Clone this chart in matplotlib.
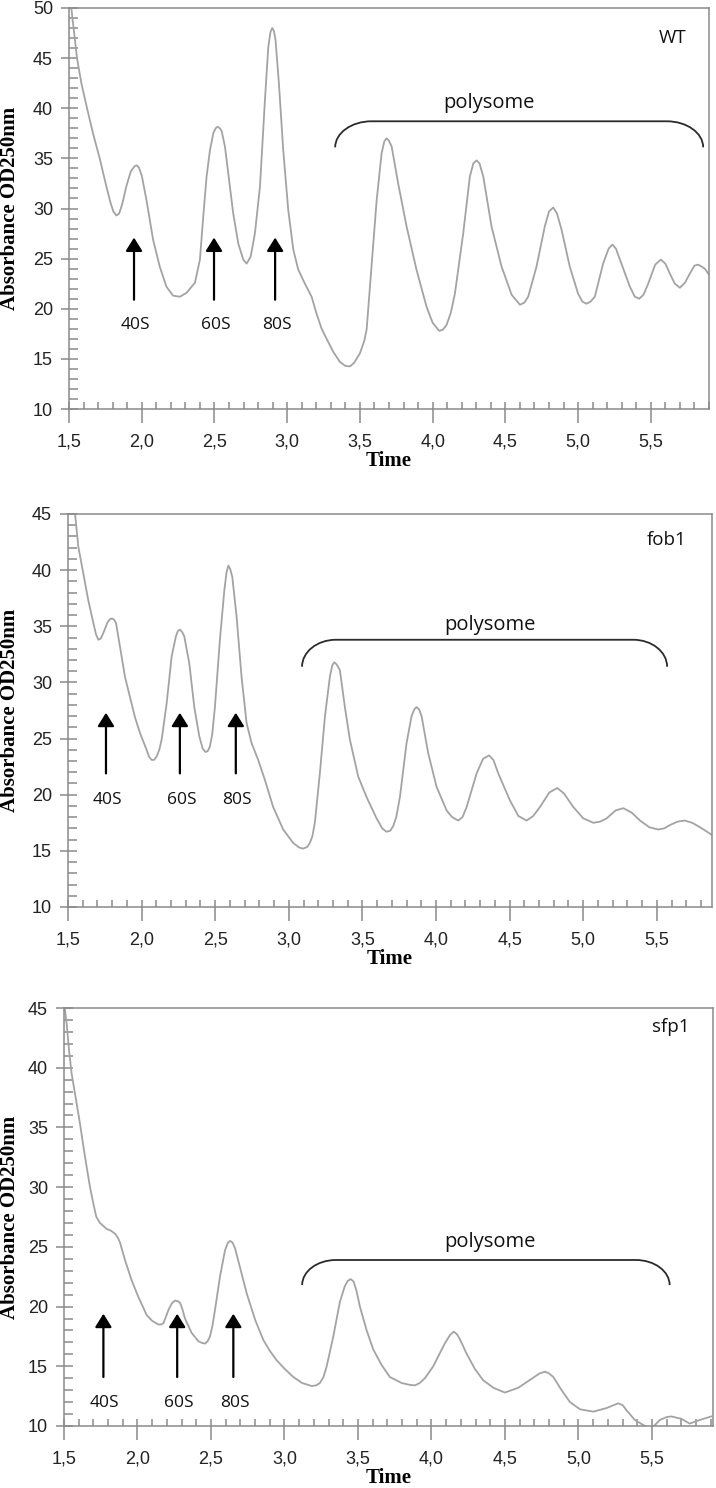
import matplotlib
matplotlib.use('Agg')
import matplotlib.pyplot as plt
from matplotlib.path import Path
from matplotlib.patches import PathPatch
from matplotlib.ticker import FixedLocator, MultipleLocator

# ---------------- data ----------------
panel_names = ['WT', 'fob1', 'sfp1']

# (time, absorbance) samples
wt_curve = [
    (1.50, 51.5), (1.516, 50.0), (1.555, 45.0), (1.585, 42.5), (1.624, 40.0),
    (1.665, 37.5), (1.711, 35.0), (1.757, 32.2), (1.785, 30.6), (1.805, 29.7),
    (1.826, 29.3), (1.845, 29.5), (1.865, 30.4), (1.894, 32.2), (1.925, 33.7),
    (1.95, 34.2), (1.965, 34.3), (1.98, 34.1), (2.0, 33.3), (2.032, 30.9),
    (2.078, 26.9), (2.124, 24.2), (2.17, 22.2), (2.216, 21.3), (2.263, 21.2),
    (2.309, 21.6), (2.366, 22.6), (2.40, 24.9), (2.423, 29.2), (2.446, 33.2),
    (2.469, 35.8), (2.492, 37.5), (2.508, 38.0), (2.522, 38.16), (2.537, 38.0),
    (2.55, 37.7), (2.572, 36.2), (2.595, 33.5), (2.629, 29.5), (2.664, 26.5),
    (2.698, 24.9), (2.721, 24.5), (2.749, 25.2), (2.778, 27.5), (2.813, 32.2),
    (2.847, 40.8), (2.870, 46.1), (2.885, 47.6), (2.897, 48.0), (2.909, 47.7),
    (2.92, 46.8), (2.943, 42.5), (2.973, 35.8), (3.007, 29.9), (3.042, 25.9),
    (3.076, 23.9), (3.122, 22.5), (3.168, 21.2), (3.202, 19.5), (3.237, 18.0),
    (3.271, 17.0), (3.317, 15.7), (3.362, 14.7), (3.40, 14.3), (3.431, 14.25),
    (3.46, 14.6), (3.50, 15.55), (3.53, 16.8), (3.546, 17.9), (3.58, 24.2),
    (3.615, 30.8), (3.649, 35.5), (3.668, 36.7), (3.683, 37.0), (3.698, 36.8),
    (3.718, 36.2), (3.763, 32.5), (3.821, 28.2), (3.889, 23.9), (3.958, 20.2),
    (4.00, 18.6), (4.045, 17.8), (4.07, 17.9), (4.096, 18.4), (4.125, 19.6),
    (4.153, 21.5), (4.21, 27.5), (4.256, 33.2), (4.28, 34.5), (4.302, 34.8),
    (4.322, 34.5), (4.348, 33.2), (4.405, 28.2), (4.474, 24.2), (4.543, 21.4),
    (4.60, 20.4), (4.63, 20.6), (4.657, 21.2), (4.714, 24.2), (4.771, 28.2),
    (4.80, 29.7), (4.829, 30.1), (4.855, 29.5), (4.886, 27.9), (4.943, 24.2),
    (5.0, 21.5), (5.03, 20.7), (5.058, 20.5), (5.085, 20.7), (5.115, 21.2),
    (5.172, 24.5), (5.21, 26.0), (5.236, 26.4), (5.26, 26.0), (5.298, 24.5),
    (5.356, 22.2), (5.39, 21.2), (5.42, 21.0), (5.45, 21.4), (5.482, 22.5),
    (5.53, 24.4), (5.569, 24.9), (5.60, 24.5), (5.631, 23.5), (5.665, 22.5),
    (5.70, 22.1), (5.735, 22.6), (5.768, 23.5), (5.80, 24.3), (5.825, 24.4),
    (5.85, 24.2), (5.871, 24.0), (5.90, 23.4),
]

fob1_curve = [
    (1.50, 48.5), (1.548, 45.0), (1.57, 42.1), (1.604, 39.7), (1.638, 37.3),
    (1.672, 35.3), (1.69, 34.3), (1.706, 33.8), (1.722, 33.9), (1.74, 34.4),
    (1.767, 35.3), (1.782, 35.6), (1.797, 35.7), (1.812, 35.6), (1.826, 35.3),
    (1.853, 33.2), (1.887, 30.5), (1.921, 28.7), (1.955, 26.9), (1.989, 25.5),
    (2.034, 24.0), (2.05, 23.4), (2.068, 23.1), (2.085, 23.1), (2.102, 23.4),
    (2.12, 24.0), (2.136, 24.9), (2.17, 28.1), (2.204, 32.3), (2.233, 34.1),
    (2.247, 34.6), (2.26, 34.7), (2.275, 34.5), (2.29, 34.1), (2.324, 31.7),
    (2.358, 27.8), (2.392, 25.2), (2.415, 24.1), (2.435, 23.8), (2.45, 23.9),
    (2.464, 24.3), (2.48, 25.4), (2.498, 27.8), (2.532, 33.8), (2.562, 38.2),
    (2.577, 39.8), (2.589, 40.4), (2.602, 40.1), (2.616, 39.4), (2.645, 35.9),
    (2.679, 30.5), (2.713, 26.4), (2.747, 24.6), (2.792, 23.1), (2.838, 21.3),
    (2.894, 18.9), (2.962, 16.9), (3.03, 15.7), (3.07, 15.3), (3.098, 15.2),
    (3.125, 15.35), (3.143, 15.7), (3.16, 16.3), (3.177, 17.5), (3.211, 21.9),
    (3.245, 26.9), (3.279, 30.5), (3.295, 31.5), (3.309, 31.8), (3.325, 31.6),
    (3.347, 31.1), (3.381, 27.8), (3.415, 24.9), (3.472, 21.6), (3.528, 19.8),
    (3.596, 17.9), (3.635, 17.0), (3.664, 16.7), (3.69, 16.8), (3.709, 17.2),
    (3.73, 18.0), (3.755, 19.8), (3.80, 24.6), (3.834, 27.0), (3.852, 27.6),
    (3.868, 27.8), (3.885, 27.6), (3.902, 27.0), (3.947, 23.7), (4.004, 20.7),
    (4.072, 18.6), (4.11, 18.0), (4.151, 17.7), (4.18, 18.0), (4.208, 18.9),
    (4.276, 21.9), (4.32, 23.2), (4.36, 23.5), (4.39, 23.1), (4.423, 21.9),
    (4.502, 19.5), (4.56, 18.1), (4.616, 17.7), (4.66, 18.1), (4.706, 18.9),
    (4.77, 20.2), (4.824, 20.6), (4.87, 20.1), (4.933, 18.9), (5.00, 17.9),
    (5.069, 17.5), (5.115, 17.6), (5.16, 17.9), (5.22, 18.6), (5.273, 18.8),
    (5.33, 18.4), (5.386, 17.7), (5.45, 17.1), (5.51, 16.9), (5.55, 17.0),
    (5.59, 17.3), (5.64, 17.6), (5.69, 17.7), (5.74, 17.5), (5.781, 17.2),
    (5.83, 16.8), (5.876, 16.4),
]

sfp1_curve = [
    (1.50, 45.5), (1.518, 43.7), (1.534, 41.5), (1.552, 39.5), (1.582, 37.3),
    (1.609, 35.3), (1.632, 33.4), (1.654, 31.7), (1.677, 30.0), (1.70, 28.6),
    (1.72, 27.5), (1.745, 27.0), (1.79, 26.5), (1.82, 26.35), (1.847, 26.1),
    (1.865, 25.8), (1.88, 25.4), (1.915, 23.9), (1.96, 22.2), (2.006, 20.8),
    (2.062, 19.3), (2.10, 18.8), (2.142, 18.5), (2.16, 18.5), (2.176, 18.6),
    (2.195, 19.2), (2.21, 19.7), (2.235, 20.3), (2.255, 20.5), (2.275, 20.45),
    (2.29, 20.3), (2.305, 19.8), (2.323, 19.0), (2.368, 17.8), (2.414, 17.1),
    (2.44, 16.95), (2.46, 16.9), (2.477, 17.1), (2.493, 17.5), (2.51, 18.4),
    (2.527, 19.7), (2.561, 22.5), (2.595, 24.7), (2.615, 25.35), (2.63, 25.5),
    (2.647, 25.35), (2.663, 24.9), (2.697, 23.3), (2.743, 21.1), (2.80, 18.9),
    (2.856, 17.2), (2.90, 16.3), (2.947, 15.5), (3.00, 14.8), (3.06, 14.1),
    (3.12, 13.6), (3.185, 13.35), (3.215, 13.4), (3.241, 13.6), (3.265, 14.1),
    (3.287, 15.0), (3.332, 17.5), (3.377, 20.4), (3.41, 21.7), (3.43, 22.15),
    (3.45, 22.3), (3.47, 22.1), (3.49, 21.3), (3.513, 20.0), (3.559, 18.0),
    (3.604, 16.4), (3.661, 15.1), (3.717, 14.1), (3.797, 13.6), (3.85, 13.45),
    (3.887, 13.4), (3.92, 13.6), (3.955, 14.0), (4.012, 15.0), (4.09, 16.9),
    (4.125, 17.6), (4.151, 17.9), (4.172, 17.7), (4.192, 17.3), (4.237, 16.1),
    (4.294, 14.8), (4.35, 13.85), (4.421, 13.2), (4.499, 12.8), (4.59, 13.2),
    (4.669, 13.85), (4.735, 14.4), (4.772, 14.55), (4.80, 14.4), (4.829, 14.1),
    (4.885, 13.0), (4.942, 12.0), (5.01, 11.4), (5.101, 11.2), (5.19, 11.5),
    (5.27, 11.9), (5.30, 11.75), (5.328, 11.3), (5.384, 10.5), (5.452, 10.0),
    (5.497, 9.8), (5.553, 10.5), (5.60, 10.75), (5.632, 10.8), (5.70, 10.6),
    (5.756, 10.2), (5.824, 10.5), (5.903, 10.8),
]

x_ticks = [1.5, 2.0, 2.5, 3.0, 3.5, 4.0, 4.5, 5.0, 5.5]
x_tick_labels = ['1,5', '2,0', '2,5', '3,0', '3,5', '4,0', '4,5', '5,0', '5,5']
wt_y_ticks = [10, 15, 20, 25, 30, 35, 40, 45, 50]
mut_y_ticks = [10, 15, 20, 25, 30, 35, 40, 45]

peak_labels = ['40S', '60S', '80S']
wt_peak_time = [1.947, 2.497, 2.917]
fob1_peak_time = [1.758, 2.26, 2.64]
sfp1_peak_time = [1.768, 2.27, 2.652]
bracket_label = 'polysome'

# ---------------- layout / style ----------------
W, H = 716, 1488
fig = plt.figure(figsize=(W / 100, H / 100), dpi=100)

axes_px = [  # left, top, right, bottom in pixels
    (69, 8, 709, 409),
    (68, 514, 712, 907),
    (64, 1008, 713, 1426),
]
xlims = [(1.5, 5.9), (1.5, 5.875), (1.5, 5.915)]
ylims = [(10, 50), (10, 45), (10, 45)]
curves = [wt_curve, fob1_curve, sfp1_curve]
yticks_all = [wt_y_ticks, mut_y_ticks, mut_y_ticks]
peak_times = [wt_peak_time, fob1_peak_time, sfp1_peak_time]
arrow_y = [(27.1, 20.9, 18.4), (27.3, 21.9, 19.5), (19.4, 14.1, 11.9)]  # tip, tail, label
brackets = [(3.33, 5.86, 38.7, 36.1, 0.25), (3.09, 5.57, 33.8, 31.4, 0.23),
            (3.12, 5.62, 23.9, 21.8, 0.23)]
bracket_text = [(4.39, 40.5), (4.366, 35.1), (4.40, 25.4)]
name_pos = [(5.65, 47.0), (5.566, 42.7), (5.63, 43.4)]

axis_grey = '#8a8a8a'
curve_grey = '#a3a3a3'
sans_ann = ['Open Sans', 'DejaVu Sans']
tick_font = 'Liberation Sans'
serif = 'Liberation Serif'

for i in range(3):
    l, t, r, b = axes_px[i]
    ax = fig.add_axes([l / W, 1 - b / H, (r - l) / W, (b - t) / H])
    xs = [p[0] for p in curves[i]]
    ys = [p[1] for p in curves[i]]
    ax.plot(xs, ys, color=curve_grey, lw=1.3, solid_joinstyle='round')
    ax.set_xlim(*xlims[i])
    ax.set_ylim(*ylims[i])

    for sp in ax.spines.values():
        sp.set_color(axis_grey)
        sp.set_linewidth(1.1)

    ax.xaxis.set_major_locator(FixedLocator(x_ticks))
    ax.set_xticklabels(x_tick_labels)
    ax.xaxis.set_minor_locator(MultipleLocator(0.1))
    ax.xaxis.remove_overlapping_locs = False
    ax.yaxis.set_major_locator(FixedLocator(yticks_all[i]))
    ax.set_yticklabels([str(v) for v in yticks_all[i]])
    ax.yaxis.set_minor_locator(MultipleLocator(1))
    ax.yaxis.remove_overlapping_locs = False

    ax.tick_params(axis='x', which='major', direction='out', length=10, width=1.1,
                   color=axis_grey, pad=7.5, labelsize=13, labelcolor='#222222')
    ax.tick_params(axis='x', which='minor', direction='in', length=5, width=1.1,
                   color=axis_grey)
    ax.tick_params(axis='y', which='major', direction='out', length=6, width=1.1,
                   color=axis_grey, pad=5.5, labelsize=13, labelcolor='#222222')
    ax.tick_params(axis='y', which='minor', direction='in', length=6.5, width=1.1,
                   color=axis_grey)
    for lab in ax.get_xticklabels() + ax.get_yticklabels():
        lab.set_fontfamily(tick_font)

    ax.set_xlabel('Time', fontfamily=serif, fontweight='bold', fontsize=15, labelpad=0.5)
    ax.set_ylabel('Absorbance OD250nm', fontfamily=serif, fontweight='bold', fontsize=15)
    ax.yaxis.label.set_verticalalignment('center')
    ax.yaxis.set_label_coords((10 - l) / (r - l), 0.5)

    # panel name
    ax.text(name_pos[i][0], name_pos[i][1], panel_names[i], ha='center', va='center',
            fontsize=13.5, family=sans_ann, color='#111111')

    # arrows with labels
    tip, tail, ly = arrow_y[i]
    for px, lab in zip(peak_times[i], peak_labels):
        ax.annotate('', xy=(px, tip), xytext=(px, tail),
                    arrowprops=dict(arrowstyle='-|>,head_length=0.45,head_width=0.28',
                                    color='black', lw=1.6, shrinkA=0, shrinkB=0,
                                    mutation_scale=18))
        ax.text(px + 0.01, ly, lab, ha='center', va='center', fontsize=12.5,
                family=sans_ann, color='#111111')

    # polysome bracket
    x0, x1, ytop, yend, rx = brackets[i]
    k = 0.552
    ry = ytop - yend
    verts = [(x0, yend), (x0, yend + k * ry), (x0 + rx - k * rx, ytop), (x0 + rx, ytop),
             (x1 - rx, ytop), (x1 - rx + k * rx, ytop), (x1, yend + k * ry), (x1, yend)]
    codes = [Path.MOVETO, Path.CURVE4, Path.CURVE4, Path.CURVE4,
             Path.LINETO, Path.CURVE4, Path.CURVE4, Path.CURVE4]
    ax.add_patch(PathPatch(Path(verts, codes), fill=False, edgecolor='#2b2b2b', lw=1.3))
    ax.text(bracket_text[i][0], bracket_text[i][1], bracket_label, ha='center',
            va='center', fontsize=14.5, family=sans_ann, color='#111111')

fig.savefig('out.png', dpi=100)
